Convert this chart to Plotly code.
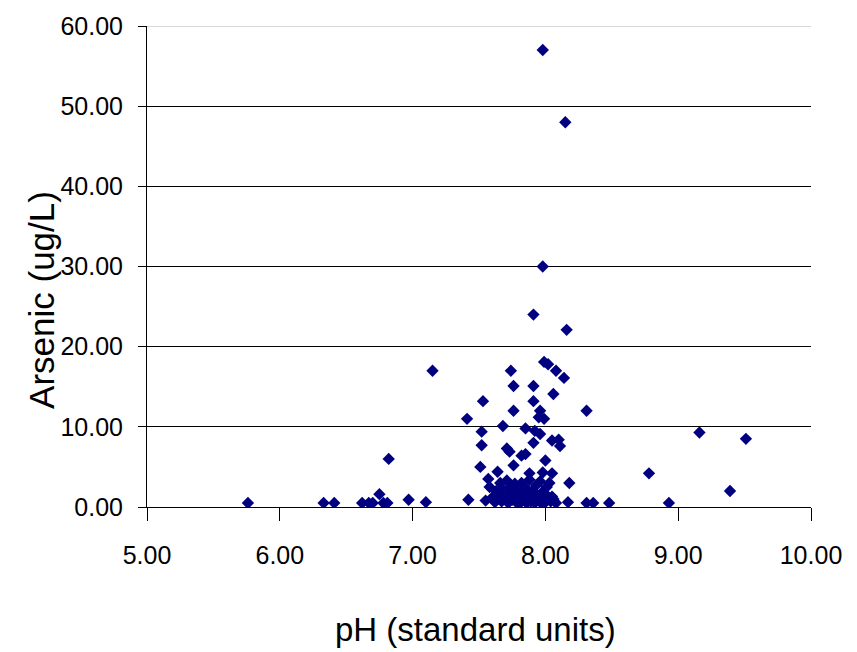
import plotly.graph_objects as go

# pH (standard units) and arsenic (ug/L) for each sample
ph = [
    5.76, 6.33, 6.41, 6.62, 6.67, 6.70, 6.75, 6.78, 6.81, 6.82, 6.97, 7.10, 7.15,
    7.41, 7.42, 7.51, 7.52, 7.52, 7.53, 7.55, 7.57, 7.58, 7.60, 7.62, 7.63, 7.64,
    7.65, 7.66, 7.67, 7.68, 7.68, 7.70, 7.71, 7.71, 7.72, 7.73, 7.73, 7.74, 7.74,
    7.75, 7.76, 7.76, 7.76, 7.77, 7.77, 7.78, 7.79, 7.80, 7.81, 7.82, 7.82, 7.83,
    7.84, 7.85, 7.85, 7.85, 7.86, 7.87, 7.88, 7.88, 7.89, 7.90, 7.91, 7.91, 7.91,
    7.91, 7.91, 7.92, 7.92, 7.93, 7.94, 7.95, 7.95, 7.96, 7.96, 7.96, 7.97, 7.98,
    7.98, 7.98, 7.98, 7.99, 7.99, 7.99, 8.00, 8.00, 8.01, 8.02, 8.02, 8.03, 8.04,
    8.05, 8.05, 8.05, 8.06, 8.06, 8.08, 8.08, 8.10, 8.11, 8.14, 8.15, 8.16, 8.17,
    8.18, 8.31, 8.31, 8.36, 8.48, 8.78, 8.93, 9.16, 9.39, 9.51,
]
arsenic = [
    0.5, 0.5, 0.5, 0.5, 0.5, 0.5, 1.6, 0.5, 0.5, 6.0, 0.9, 0.6, 17.0,
    11.0, 0.9, 5.0, 9.4, 7.7, 13.2, 0.8, 3.5, 2.5, 1.2, 0.6, 2.0, 4.4,
    1.5, 3.0, 0.7, 10.1, 2.2, 1.0, 7.3, 3.3, 0.5, 6.9, 1.8, 17.0, 2.6,
    0.9, 15.1, 12.0, 5.2, 2.9, 1.4, 0.6, 2.0, 1.1, 0.5, 6.4, 3.0, 1.6,
    0.8, 9.8, 6.6, 2.4, 0.5, 1.2, 4.2, 3.4, 0.7, 2.0, 24.0, 15.1, 13.2,
    8.0, 1.0, 9.5, 0.5, 2.7, 1.5, 11.2, 0.8, 12.0, 9.1, 3.2, 0.5, 57.0,
    30.0, 4.3, 1.9, 11.0, 18.1, 1.1, 0.6, 5.8, 2.5, 17.8, 1.3, 3.0, 0.7,
    8.3, 4.2, 1.3, 14.1, 1.0, 17.0, 0.5, 8.4, 7.6, 16.1, 48.0, 22.1, 0.6,
    3.0, 12.0, 0.5, 0.5, 0.5, 4.2, 0.5, 9.3, 2.0, 8.5,
]

x_ticks = [5, 6, 7, 8, 9, 10]
y_ticks = [0, 10, 20, 30, 40, 50, 60]

FONT = "Liberation Sans Narrow, Arial Narrow, Liberation Sans, Arial, sans-serif"

fig = go.Figure()
fig.add_trace(go.Scatter(
    x=ph, y=arsenic, mode="markers",
    marker=dict(symbol="diamond", size=9.5, color="#000080",
                line=dict(width=0)),
    showlegend=False, hoverinfo="x+y",
))

fig.update_layout(
    width=857, height=652,
    margin=dict(l=147, r=46, t=19, b=145),
    paper_bgcolor="white", plot_bgcolor="white",
    font=dict(family=FONT, size=25, color="black"),
    xaxis=dict(
        range=[5, 10], tickvals=x_ticks, tickformat=".2f",
        showgrid=False, zeroline=False,
        showline=True, linecolor="black", linewidth=1,
        ticks="outside", ticklen=13, tickcolor="black", tickwidth=1,
        ticklabelstandoff=13,
    ),
    yaxis=dict(
        range=[0, 60], tickvals=y_ticks, tickformat=".2f",
        showgrid=True, gridcolor="#000000", gridwidth=1,
        zeroline=False,
        showline=True, linecolor="black", linewidth=1,
        ticks="outside", ticklen=8, tickcolor="black", tickwidth=1,
        ticklabelstandoff=10,
    ),
    shapes=[dict(type="line", xref="paper", yref="y", x0=0, x1=1,
                 y0=y_ticks[-1], y1=y_ticks[-1],
                 line=dict(color="#d9d9d9", width=2), layer="above")],
    annotations=[
        dict(text="Arsenic (ug/L)", xref="paper", yref="paper",
             x=-0.16, y=0.43, textangle=-90, showarrow=False,
             font=dict(family=FONT, size=35, color="black"),
             xanchor="center", yanchor="middle"),
        dict(text="pH (standard units)", xref="paper", yref="paper",
             x=0.495, y=-0.255, showarrow=False,
             font=dict(family=FONT, size=33, color="black"),
             xanchor="center", yanchor="middle"),
    ],
)

fig.write_html("out.html")
